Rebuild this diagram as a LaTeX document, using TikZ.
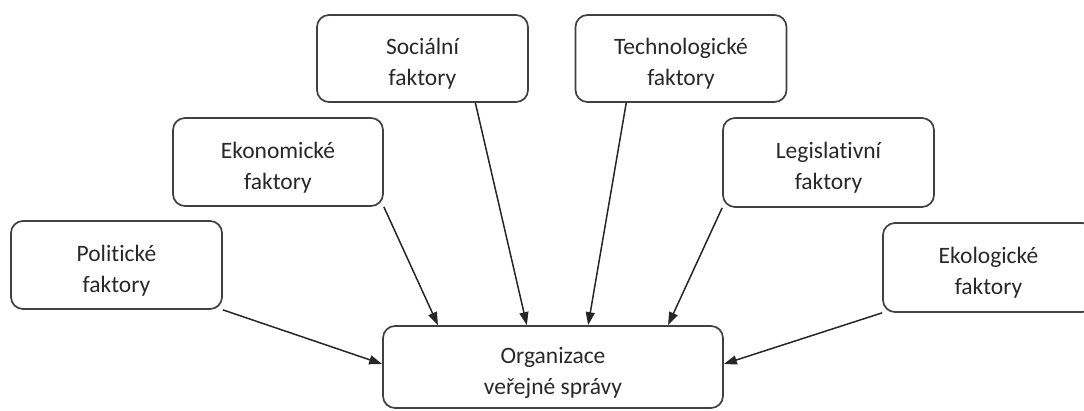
\documentclass[tikz,border=0pt]{standalone}
\definecolor{myboxgray}{RGB}{64, 64, 64}
\definecolor{mytextgray}{RGB}{40, 40, 40}
\usepackage{fontspec}
\setmainfont{Carlito}[Ligatures=CommonOff]
\usepackage{tikz}
\usetikzlibrary{arrows.meta}
\tikzset{every picture/.style={line width=1.5pt}}
\tikzset{
  factorbox/.style={draw=myboxgray, line width=1.7pt, rounded corners=12pt,
    fill=white, inner sep=0pt, minimum width=211pt, minimum height=88pt,
    align=center, text=mytextgray, font=\fontsize{23.5}{31}\selectfont,
    text height=58pt, text depth=4pt},
  factorarrow/.style={draw=black!85, line width=1.5pt,
    -{Triangle[length=13pt,width=9pt]}}
}

\begin{document}
\begin{tikzpicture}[x=1pt,y=1pt,yscale=-1,xscale=1]
%set diagram area to 1084 x 410
\clip (0,0) rectangle (1084,410);

%Rounded Rect: Politicke
\node [factorbox] (polit) at (116.5,265) {Politické\\faktory};
%Rounded Rect: Ekonomicke
\node [factorbox, minimum width=210pt] (ekon) at (278,162) {Ekonomické\\faktory};
%Rounded Rect: Socialni
\node [factorbox, minimum height=87pt] (soc) at (422.5,58.5) {Sociální\\faktory};
%Rounded Rect: Technologicke
\node [factorbox, minimum height=87pt] (tech) at (681,58.5) {Technologické\\faktory};
%Rounded Rect: Legislativni
\node [factorbox, minimum height=89pt] (legis) at (828.5,162.5) {Legislativní\\faktory};
%Rounded Rect: Ekologicke
\node [factorbox, minimum height=89pt] (ekol) at (988.5,267.5) {Ekologické\\faktory};
%Rounded Rect: Organizace
\node [factorbox, minimum width=340pt, minimum height=82pt] (org) at (553,367) {Organizace\\veřejné správy};

%Straight Lines with arrows
\draw [factorarrow] (polit.south east) -- (org.179);
\draw [factorarrow] (ekon.south east) -- (org.160.8);
\draw [factorarrow] (soc.-40) -- (org.122.4);
\draw [factorarrow] (tech.-141.5) -- (org.50.3);
\draw [factorarrow] (legis.south west) -- (org.20.6);
\draw [factorarrow] (ekol.south west) -- (org.1);

\end{tikzpicture}
\end{document}
